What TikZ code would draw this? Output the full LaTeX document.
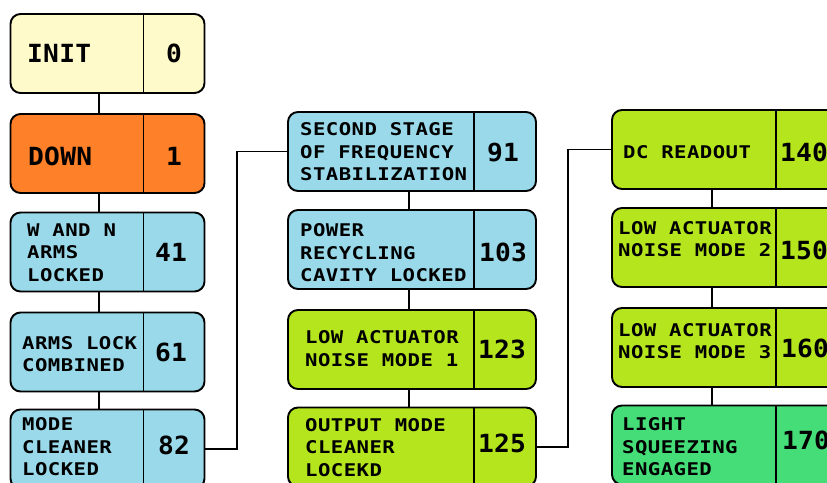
\documentclass[tikz,border=0pt]{standalone}
\usepackage{fontspec}
\newfontfamily\pixlabel[FakeStretch=1.18, LetterSpace=2.5]{DejaVu Sans Mono}
\newfontfamily\pixnum[FakeStretch=1.05, LetterSpace=1]{DejaVu Sans Mono}
\definecolor{initfill}{RGB}{255,250,202}
\definecolor{downfill}{RGB}{254,128,40}
\definecolor{lockfill}{RGB}{153,217,234}
\definecolor{lownoisefill}{RGB}{181,230,29}
\definecolor{sqzfill}{RGB}{68,221,120}

\begin{document}
\begin{tikzpicture}[x=1pt, y=-1pt,
  state/.style={draw, line width=1.9pt, rounded corners=10pt, minimum height=79pt, inner sep=0pt},
  lbl/.style={anchor=west, align=left, inner sep=0pt, font=\pixlabel\bfseries\fontsize{17.5}{22.5}\selectfont},
  num/.style={inner sep=0pt, font=\pixnum\bfseries\fontsize{25}{28}\selectfont},
  link/.style={line width=1.9pt}]
  \useasboundingbox (0,0) rectangle (827,482);
  \clip (0,0) rectangle (827,482);

  % first column
  \node[state, fill=initfill, minimum width=194pt] (init) at (107.5,53.5) {};
  \node[state, fill=downfill, minimum width=194pt] (down) at (107.5,153.5) {};
  \node[state, fill=lockfill, minimum width=194pt] (armsw) at (107.5,252) {};
  \node[state, fill=lockfill, minimum width=194pt] (armslock) at (107.5,352) {};
  \node[state, fill=lockfill, minimum width=194pt] (mclock) at (107.5,449) {};

  % second column
  \node[state, fill=lockfill, minimum width=248pt] (stab) at (412,151.5) {};
  \node[state, fill=lockfill, minimum width=248pt] (prcl) at (412,249.5) {};
  \node[state, fill=lownoisefill, minimum width=248pt] (lownoiseone) at (412,349.5) {};
  \node[state, fill=lownoisefill, minimum width=248pt] (omc) at (412,447) {};

  % third column
  \node[state, fill=lownoisefill, minimum width=228pt] (dcread) at (726,149.5) {};
  \node[state, fill=lownoisefill, minimum width=228pt] (lownoisetwo) at (726,247.5) {};
  \node[state, fill=lownoisefill, minimum width=228pt] (lownoisethree) at (726,347.5) {};
  \node[state, fill=sqzfill, minimum width=228pt] (sqz) at (726,445) {};

  \coordinate (divone) at (143.5,0);
  \coordinate (divtwo) at (474,0);
  \coordinate (divthree) at (776,0);
  \foreach \s in {init,down,armsw,armslock,mclock}
    \draw[link] (\s.north -| divone) -- (\s.south -| divone);
  \foreach \s in {stab,prcl,lownoiseone,omc}
    \draw[link] (\s.north -| divtwo) -- (\s.south -| divtwo);
  \foreach \s in {dcread,lownoisetwo,lownoisethree,sqz}
    \draw[link] (\s.north -| divthree) -- (\s.south -| divthree);

  % labels
  \node[num, anchor=west] (initlbl) at (27,53.5) {INIT};
  \node[num, anchor=west] (downlbl) at (28,156) {DOWN};
  \node[lbl] (armswlbl) at (27,252.5) {W AND N\\ARMS\\LOCKED};
  \node[lbl] (armslocklbl) at (22,354) {ARMS LOCK\\COMBINED};
  \node[lbl] (mclocklbl) at (22,447) {MODE\\CLEANER\\LOCKED};
  \node[lbl] (stablbl) at (300,152) {SECOND STAGE\\OF FREQUENCY\\STABILIZATION};
  \node[lbl] (prcllbl) at (300,253) {POWER\\RECYCLING\\CAVITY LOCKED};
  \node[lbl] (lownoiseonelbl) at (305,348.5) {LOW ACTUATOR\\NOISE MODE 1};
  \node[lbl] (omclbl) at (305,447.5) {OUTPUT MODE\\CLEANER\\LOCEKD};
  \node[lbl] (dcreadlbl) at (623,152.5) {DC READOUT};
  \node[lbl] (lownoisetwolbl) at (618,239) {LOW ACTUATOR\\NOISE MODE 2};
  \node[lbl] (lownoisethreelbl) at (618,341) {LOW ACTUATOR\\NOISE MODE 3};
  \node[lbl] (sqzlbl) at (622,447) {LIGHT\\SQUEEZING\\ENGAGED};

  % numbers
  \node[num] (initnum) at (174,53.5) {0};
  \node[num] (downnum) at (174,156) {1};
  \node[num] (armswnum) at (171,252) {41};
  \node[num] (armslocknum) at (171,352) {61};
  \node[num] (mclocknum) at (174,445) {82};
  \node[num] (stabnum) at (503,153) {91};
  \node[num] (prclnum) at (503,252) {103};
  \node[num] (lownoiseonenum) at (502,349) {123};
  \node[num] (omcnum) at (502,443) {125};
  \node[num] (dcreadnum) at (804,152) {140};
  \node[num] (lownoisetwonum) at (804,250) {150};
  \node[num] (lownoisethreenum) at (805,348) {160};
  \node[num] (sqznum) at (806,440) {170};

  % connectors
  \coordinate (spineone) at (99,0);
  \coordinate (spinetwo) at (409,0);
  \coordinate (spinethree) at (712,0);
  \coordinate (jogone) at (237,0);
  \coordinate (jogtwo) at (568,0);
  \draw[link] (init.south -| spineone) -- (down.north -| spineone);
  \draw[link] (down.south -| spineone) -- (armsw.north -| spineone);
  \draw[link] (armsw.south -| spineone) -- (armslock.north -| spineone);
  \draw[link] (armslock.south -| spineone) -- (mclock.north -| spineone);
  \draw[link] (stab.south -| spinetwo) -- (prcl.north -| spinetwo);
  \draw[link] (prcl.south -| spinetwo) -- (lownoiseone.north -| spinetwo);
  \draw[link] (lownoiseone.south -| spinetwo) -- (omc.north -| spinetwo);
  \draw[link] (dcread.south -| spinethree) -- (lownoisetwo.north -| spinethree);
  \draw[link] (lownoisetwo.south -| spinethree) -- (lownoisethree.north -| spinethree);
  \draw[link] (lownoisethree.south -| spinethree) -- (sqz.north -| spinethree);
  \draw[link] (mclock.east) -- (mclock.east -| jogone) |- (stab.west);
  \draw[link] (omc.east) -- (omc.east -| jogtwo) |- (dcread.west);
\end{tikzpicture}
\end{document}
